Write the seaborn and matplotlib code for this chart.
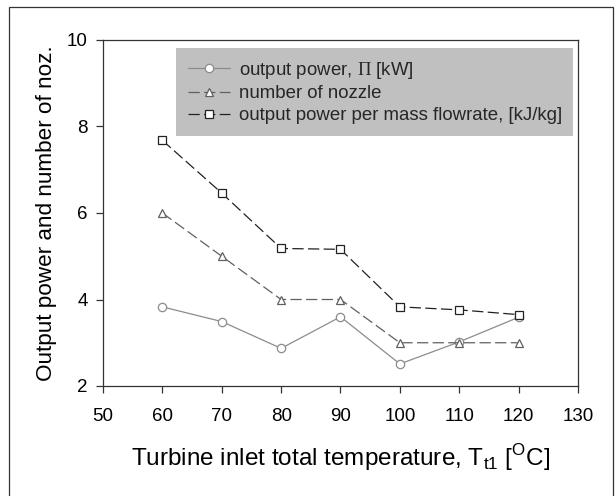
import matplotlib
matplotlib.use('Agg')
import matplotlib.pyplot as plt
from matplotlib.patches import Rectangle
import seaborn as sns

temperature = [60, 70, 80, 90, 100, 110, 120]
output_power = [3.83, 3.49, 2.87, 3.60, 2.51, 3.02, 3.59]
n_nozzle = [6, 5, 4, 4, 3, 3, 3]
power_per_mass = [7.68, 6.46, 5.18, 5.16, 3.83, 3.76, 3.65]

sns.set_theme(style='white')
plt.rcParams['font.family'] = ['Liberation Sans', 'DejaVu Sans']
plt.rcParams['mathtext.fontset'] = 'custom'
plt.rcParams['mathtext.rm'] = 'Liberation Sans'
plt.rcParams['mathtext.sf'] = 'Liberation Serif'

fig = plt.figure(figsize=(6.16, 4.96), dpi=100)
ax = fig.add_axes([103 / 616, 1 - 386 / 496, 475 / 616, 346 / 496])

# outer frame round the whole figure
fig.patches.append(Rectangle((9 / 616, -0.01), 604 / 616, 1 - 7 / 496 + 0.01,
                             transform=fig.transFigure, fill=False,
                             edgecolor='#333333', linewidth=0.9))

sns.lineplot(x=temperature, y=output_power, ax=ax, color='#8c8c8c', linewidth=0.9,
             marker='o', markersize=6, markerfacecolor='white', markeredgecolor='#8c8c8c',
             markeredgewidth=0.9, label=r'output power, $\mathsf{\Pi}$ [kW]')
sns.lineplot(x=temperature, y=n_nozzle, ax=ax, color='#606060', linewidth=0.9,
             linestyle=(0, (9, 3.5)), marker='^', markersize=6, markerfacecolor='white',
             markeredgecolor='#606060', markeredgewidth=0.9, label='number of nozzle')
sns.lineplot(x=temperature, y=power_per_mass, ax=ax, color='#222222', linewidth=0.9,
             linestyle=(0, (9, 3.5)), marker='s', markersize=6, markerfacecolor='white',
             markeredgecolor='#222222', markeredgewidth=0.9,
             label='output power per mass flowrate, [kJ/kg]')

ax.set_xlim(50, 130)
ax.set_ylim(2, 10)
ax.set_xticks(range(50, 131, 10))
ax.set_yticks(range(2, 11, 2))
for side in ['left', 'bottom', 'top', 'right']:
    ax.spines[side].set_color('#333333')
    ax.spines[side].set_linewidth(0.9)
ax.tick_params(axis='both', which='major', direction='out', length=5, width=0.9,
               color='#333333', labelsize=13.5, labelcolor='black',
               bottom=True, left=True)
ax.tick_params(axis='x', pad=11)
ax.tick_params(axis='y', pad=6)
ax.set_xlabel(r'Turbine inlet total temperature, T$_{\mathrm{t1}}$ [$^{\mathrm{O}}$C]',
              fontsize=17.5, labelpad=12, color='black')
ax.set_ylabel('Output power and number of noz.', fontsize=16.2, labelpad=7, color='black')

leg = ax.legend(loc='upper left', bbox_to_anchor=(0.154, 0.5, 0.8365, 0.4769), mode='expand',
                frameon=True, fancybox=False, facecolor='#c0c0c0', edgecolor='none',
                framealpha=1, fontsize=13.4, handlelength=2.3, handletextpad=0.45,
                borderaxespad=0, borderpad=0.62, labelspacing=0.26)

fig.savefig('out.png', dpi=100)
